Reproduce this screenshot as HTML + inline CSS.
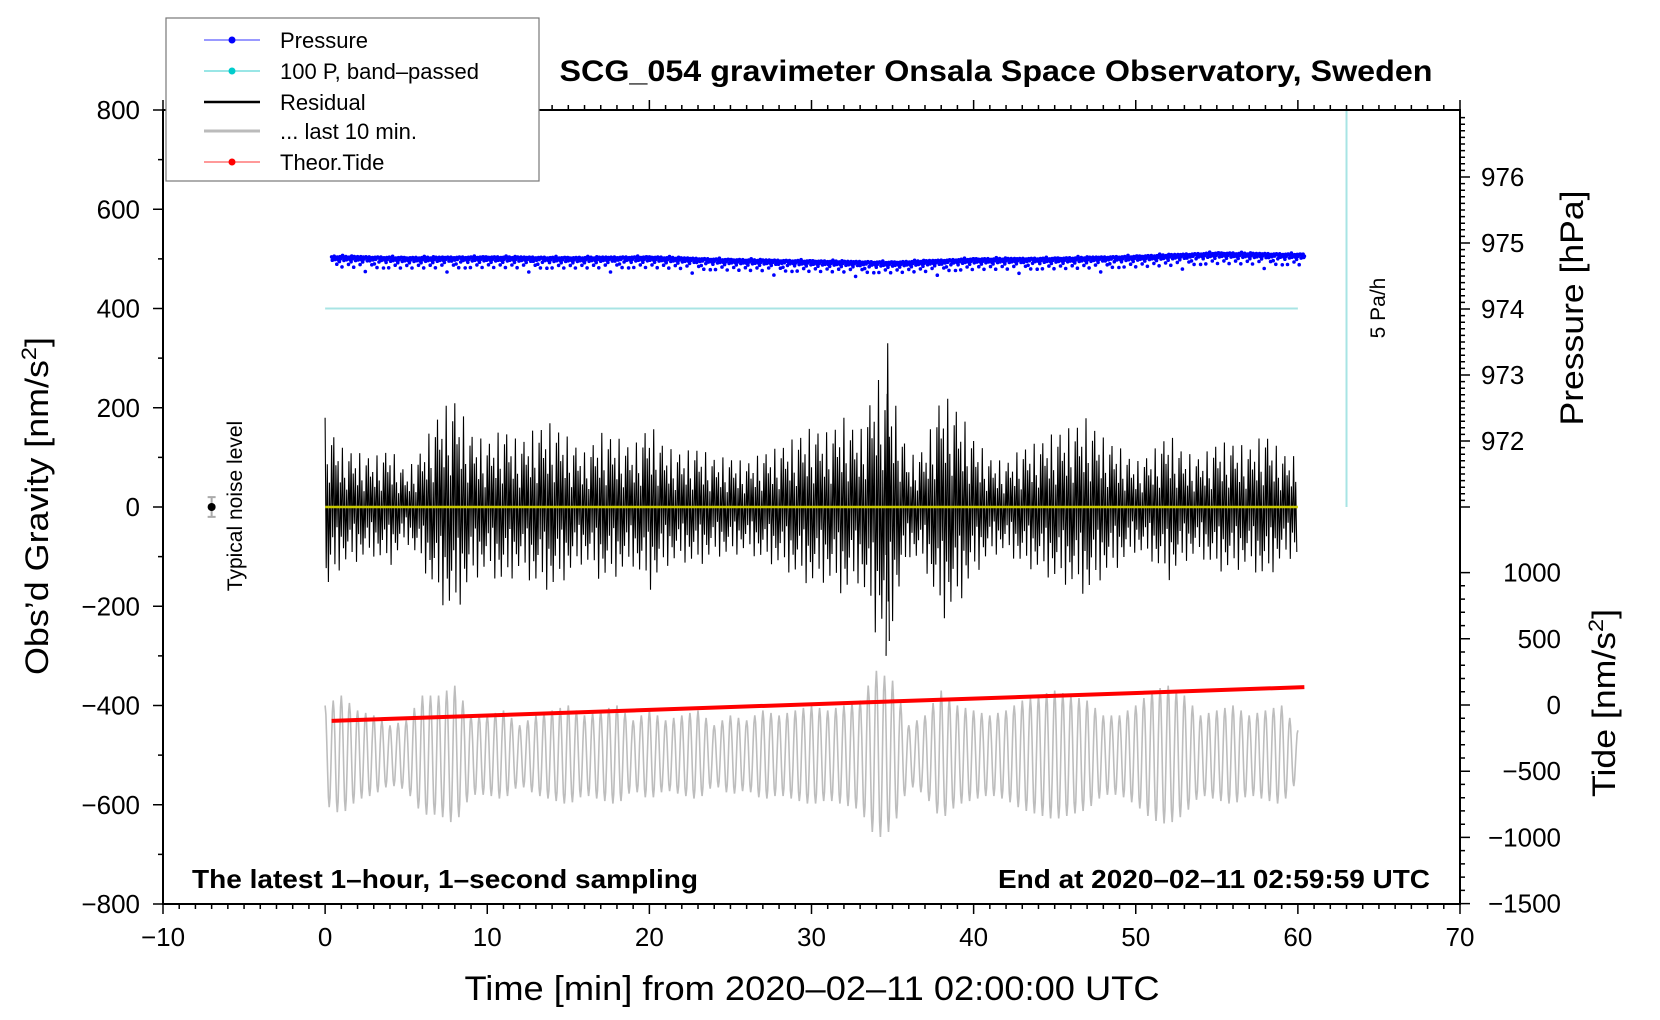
<!DOCTYPE html>
<html><head><meta charset="utf-8"><style>
html,body{margin:0;padding:0;background:#fff}
svg{display:block;font-family:"Liberation Sans",sans-serif}
</style></head><body>
<svg id="chart" width="1660" height="1020" viewBox="0 0 1660 1020" xmlns="http://www.w3.org/2000/svg">
<g id="marks"></g>
<g id="axes"></g>
<text x="996" y="81" text-anchor="middle" font-weight="bold" font-size="30" textLength="873" lengthAdjust="spacingAndGlyphs">SCG_054 gravimeter Onsala Space Observatory, Sweden</text>
<text x="192" y="888" font-weight="bold" font-size="26" textLength="506" lengthAdjust="spacingAndGlyphs">The latest 1–hour, 1–second sampling</text>
<text x="1430" y="888" text-anchor="end" font-weight="bold" font-size="26" textLength="432" lengthAdjust="spacingAndGlyphs">End at 2020–02–11 02:59:59 UTC</text>
<text x="812" y="1000" text-anchor="middle" font-size="34" textLength="695" lengthAdjust="spacingAndGlyphs">Time [min] from 2020–02–11 02:00:00 UTC</text>
<text transform="translate(48,506) rotate(-90)" text-anchor="middle" font-size="32" textLength="338" lengthAdjust="spacingAndGlyphs">Obs’d Gravity [nm/s<tspan font-size="21" dy="-12">2</tspan><tspan dy="12">]</tspan></text>
<text transform="translate(1583,308) rotate(-90)" text-anchor="middle" font-size="32" textLength="235" lengthAdjust="spacingAndGlyphs">Pressure [hPa]</text>
<text transform="translate(1615,703) rotate(-90)" text-anchor="middle" font-size="32" textLength="188" lengthAdjust="spacingAndGlyphs">Tide [nm/s<tspan font-size="21" dy="-12">2</tspan><tspan dy="12">]</tspan></text>
<text transform="translate(242,506) rotate(-90)" text-anchor="middle" font-size="21">Typical noise level</text>
<text transform="translate(1385,308) rotate(-90)" text-anchor="middle" font-size="21">5 Pa/h</text>
<g>
<rect x="166" y="18" width="373" height="163" fill="#fff" stroke="#777" stroke-width="1.2"/>
<g><line x1="204" y1="40" x2="260" y2="40" stroke="#33f" stroke-width="1"/><circle cx="232" cy="40" r="3.5" fill="#00f"/><text x="280" y="48" font-size="22">Pressure</text></g>
<g><line x1="204" y1="71" x2="260" y2="71" stroke="#3cc" stroke-width="1"/><circle cx="232" cy="71" r="3.5" fill="#0cc"/><text x="280" y="79" font-size="22">100 P, band–passed</text></g>
<g><line x1="204" y1="102" x2="260" y2="102" stroke="#000" stroke-width="2.5"/><text x="280" y="110" font-size="22">Residual</text></g>
<g><line x1="204" y1="131" x2="260" y2="131" stroke="#bbb" stroke-width="3"/><text x="280" y="139" font-size="22">... last 10 min.</text></g>
<g><line x1="204" y1="162" x2="260" y2="162" stroke="#f33" stroke-width="1"/><circle cx="232" cy="162" r="3.5" fill="#f00"/><text x="280" y="170" font-size="22">Theor.Tide</text></g>
</g>
</svg>
<script>
// ---- data ----
const residualEnvelope=[180,120,110,100,120,70,120,190,220,150,130,160,130,160,170,140,110,150,140,120,170,120,110,120,100,100,90,110,120,140,160,150,180,150,260,230,100,120,230,200,140,100,90,120,130,150,160,180,140,120,90,110,150,110,100,130,130,120,150,110,100];
const residualPattern=[1,-0.7,0.5,-0.9,0.3,-0.6,0.8,-0.4,0.95,-0.8,0.6,-0.3,0.7,-1,0.4,-0.5];
const greyEnvelope=[100,120,90,80,60,70,120,120,140,80,80,90,60,80,90,100,80,90,100,70,90,70,80,90,60,80,70,90,80,90,100,90,100,110,170,150,60,80,130,100,90,80,90,110,120,130,120,110,80,80,100,130,140,120,80,90,100,80,90,100,50];
const greyCenter=-500;
const pressureTimes=[0.4,5,10,15,20,25,30,35,40,45,50,55,60.4];
const pressureValues=[974.77,974.75,974.76,974.75,974.76,974.72,974.70,974.68,974.73,974.74,974.77,974.82,974.80];
const pressureJitter=[0.02,-0.03,0.01,-0.01,0.03,-0.02,0,0.015,-0.09,0.02,-0.015,0.01,-0.05,0.025,-0.005,0.01,-0.13,0.03];
const tideTimes=[0.4,60.4];
const tideValues=[-120,135];
const bandpassLevel=400;
const yellowLevel=0;
const xTicks=[-10,0,10,20,30,40,50,60,70];
const yTicks=[800,600,400,200,0,-200,-400,-600,-800];
const pTicks=[976,975,974,973,972];
const tTicks=[1000,500,0,-500,-1000,-1500];

// ---- scales ----
const X=t=>163+(t+10)*(1460-163)/80;
const Y=v=>110+(800-v)*(904-110)/1600;
const P=p=>243-(p-975)*66;
const T=v=>705-v*66.2/500;
const NS='http://www.w3.org/2000/svg';
const marks=document.getElementById('marks'), axes=document.getElementById('axes');
function mk(tag,attrs,parent){const e=document.createElementNS(NS,tag);for(const k in attrs)e.setAttribute(k,attrs[k]);parent.appendChild(e);return e;}
function env(arr,t){const i=Math.min(Math.floor(t),arr.length-2),f=t-i;return arr[i]*(1-f)+arr[i+1]*f;}

let el=mk('line',{x1:X(0),x2:X(60),y1:Y(bandpassLevel),y2:Y(bandpassLevel),stroke:'#a8e4e4','stroke-width':2},marks);


el=mk('line',{x1:X(63),x2:X(63),y1:Y(800),y2:Y(0),stroke:'#a8e4e4','stroke-width':2},marks);



let d='';let k=0;
for(let t=0;t<=60;t+=1/15){const a=env(residualEnvelope,t)*residualPattern[k%residualPattern.length];d+=(k?'L':'M')+X(t).toFixed(1)+' '+Y(a).toFixed(1);k++;}
el=mk('path',{d:d,fill:'none',stroke:'#000','stroke-width':1.1},marks);


el=mk('path',{d:`M${X(34.6)} ${Y(-300)}L${X(34.7)} ${Y(330)}L${X(34.8)} ${Y(-270)}`,fill:'none',stroke:'#000','stroke-width':1.1},marks);


el=mk('line',{x1:X(0),x2:X(60),y1:Y(yellowLevel),y2:Y(yellowLevel),stroke:'#c8c800','stroke-width':2.5},marks);



d='';k=0;
for(let t=0;t<=60;t+=0.05){const a=greyCenter+env(greyEnvelope,t)*Math.cos(2*Math.PI*t/0.5);d+=(k?'L':'M')+X(t).toFixed(1)+' '+Y(a).toFixed(1);k++;}
el=mk('path',{d:d,fill:'none',stroke:'#bdbdbd','stroke-width':1.6},marks);



const pg=mk('g',{fill:'#0000ff'},marks);


k=0;
for(let t=0.4;t<=60.4;t+=0.04){let i=0;while(i<pressureTimes.length-2&&t>pressureTimes[i+1])i++;const f=(t-pressureTimes[i])/(pressureTimes[i+1]-pressureTimes[i]);const p=pressureValues[i]*(1-f)+pressureValues[i+1]*f+pressureJitter[k%pressureJitter.length]*(k%7===3?1.5:1);mk('circle',{cx:X(t).toFixed(1),cy:P(p).toFixed(1),r:1.8},pg);k++;}

el=mk('line',{x1:X(tideTimes[0]),y1:T(tideValues[0]),x2:X(tideTimes[1]),y2:T(tideValues[1]),stroke:'#ff0000','stroke-width':4},marks);



el=mk('g',{},marks);


mk('path',{d:`M${X(-7)} ${Y(20)}V${Y(-20)}M${X(-7)-4} ${Y(20)}h8M${X(-7)-4} ${Y(-20)}h8`,stroke:'#aaa','stroke-width':2,fill:'none'},el);
mk('circle',{cx:X(-7),cy:Y(0),r:4,fill:'#000'},el);

const L=X(-10),R=X(70),Tp=Y(800),B=Y(-800);
mk('path',{d:`M${L} ${Tp}H${R}V${B}H${L}Z`,fill:'none',stroke:'#000','stroke-width':2},axes);
let tk='';
for(let t=-10;t<=70;t++){const len=t%10===0?10:5;tk+=`M${X(t)} ${B}v${len}M${X(t)} ${Tp}v${-len}`;}
for(let v=-800;v<=800;v+=100){const len=v%200===0?10:5;tk+=`M${L} ${Y(v)}h${-len}`;}
for(let p=971.0;p<=977.0;p+=0.1){const py=P(p);if(py<Tp||py>Y(0))continue;const len=Math.abs(p-Math.round(p))<0.01?10:5;tk+=`M${R} ${py.toFixed(1)}h${len}`;}
for(let v=-1500;v<=1000;v+=100){const len=v%500===0?10:5;tk+=`M${R} ${T(v).toFixed(1)}h${len}`;}
mk('path',{d:tk,stroke:'#000','stroke-width':1.5,fill:'none'},axes);
xTicks.forEach(t=>{const e=mk('text',{x:X(t),y:B+42,'text-anchor':'middle','font-size':26},axes);e.textContent=String(t).replace('-','−');

});
yTicks.forEach(v=>{const e=mk('text',{x:L-23,y:Y(v)+9,'text-anchor':'end','font-size':26},axes);e.textContent=String(v).replace('-','−');

});
pTicks.forEach(p=>{const e=mk('text',{x:R+21,y:P(p)+9,'font-size':26},axes);e.textContent=p;

});
tTicks.forEach(v=>{const e=mk('text',{x:R+101,y:T(v)+9,'text-anchor':'end','font-size':26},axes);e.textContent=String(v).replace('-','−');

});
</script>
</body></html>
